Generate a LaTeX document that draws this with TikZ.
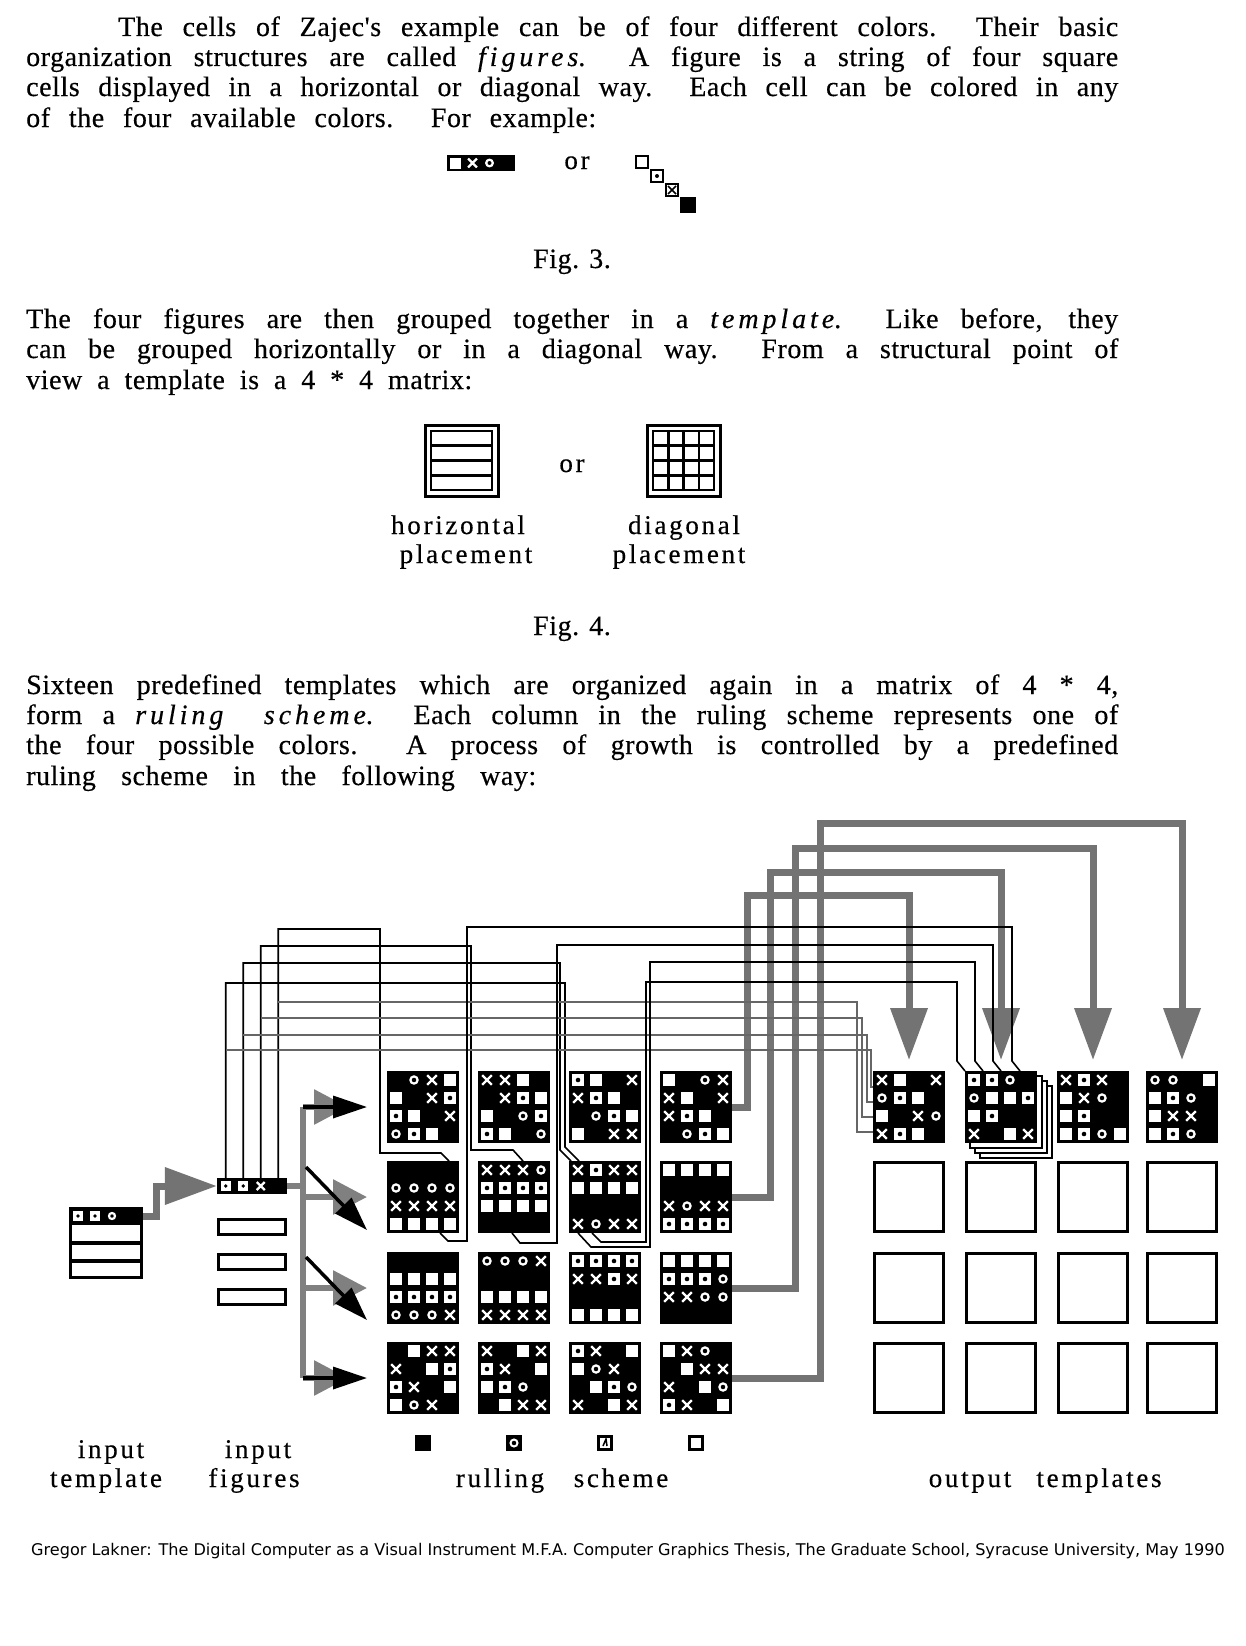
\documentclass[tikz,border=0pt]{standalone}
\usepackage{fontspec}
\setmainfont{Liberation Serif}
\newfontfamily\bodyfont[LetterSpace=2,FakeBold=0.4]{Liberation Serif}
\newfontfamily\lblfont[LetterSpace=10,FakeBold=0.4]{Liberation Serif}
\newfontfamily\capfont{DejaVu Sans}
\usetikzlibrary{arrows.meta}

\newcommand\emsp[1]{{\itshape\addfontfeature{LetterSpace=14}#1}}

\newcommand\cellsym[4]{%
  \if #4w\fill[white] ({#1-#3},{#2-#3}) rectangle ({#1+#3},{#2+#3});\fi
  \if #4x\draw[white,line width=2.4pt] ({#1-0.8*#3},{#2-0.8*#3}) -- ({#1+0.8*#3},{#2+0.8*#3}) ({#1-0.8*#3},{#2+0.8*#3}) -- ({#1+0.8*#3},{#2-0.8*#3});\fi
  \if #4o\draw[white,line width=2.2pt] ({#1},{#2}) circle ({0.6*#3});\fi
  \if #4s\fill[white] ({#1-#3},{#2-#3}) rectangle ({#1+#3},{#2+#3}); \fill[black] ({#1},{#2}) circle ({0.38*#3});\fi
}

\newcommand\tmpl[4]{%
  \node[tmplbox] (#1) at ({#2+36},{#3+36}) {};
  \foreach \sy [count=\ii from 0] in {#4}{%
    \pgfmathtruncatemacro\cc{mod(\ii,4)}%
    \pgfmathtruncatemacro\rr{floor(\ii/4)}%
    \cellsym{#2+9+18*\cc}{#3+9+18*\rr}{6}{\sy}}%
}

\tikzset{
  body/.style={anchor=base west, inner sep=0pt, font=\bodyfont\fontsize{28}{30}\selectfont},
  lbl/.style={anchor=base, inner sep=0pt, font=\lblfont\fontsize{27}{30}\selectfont},
  tmplbox/.style={rectangle, fill=black, minimum width=72pt, minimum height=72pt, inner sep=0pt},
  blankbox/.style={rectangle, draw=black, line width=3pt, fill=white, minimum width=69pt, minimum height=69pt, inner sep=0pt},
  wire/.style={draw=black, line width=1.6pt, line join=miter},
  wire2/.style={draw=black!60, line width=2.2pt, line join=miter},
  gshaft/.style={draw=black!55, line width=7pt, line join=miter},
  garrow/.style={gshaft, -{Triangle[width=36pt,length=52pt]}},
  gsmall/.style={draw=black!50, line width=6pt, -{Triangle[width=34pt,length=34pt]}},
  barrow/.style={draw=black, line width=3.5pt, -{Triangle[width=22pt,length=34pt]}},
}

\begin{document}
\begin{tikzpicture}[x=1pt,y=-1pt]
\useasboundingbox (0,0) rectangle (1245,1646);
\fill[white] (0,0) rectangle (1245,1646);

% ---------------- paragraph 1
\node[body] (p1a) at (118,36) {\makebox[1000pt][s]{The cells of Zajec's example can be of four different colors.\ \ Their basic}};
\node[body] (p1b) at (26,66) {\makebox[1092pt][s]{organization structures are called \emsp{figures}.\ \ A figure is a string of four square}};
\node[body] (p1c) at (26,96) {\makebox[1092pt][s]{cells displayed in a horizontal or diagonal way.\ \ Each cell can be colored in any}};
\node[body] (p1d) at (26,127) {\makebox[570pt][s]{of the four available colors.\ \ For example:}};

% Fig 3 figures
\node[rectangle, fill=black, minimum width=68pt, minimum height=16pt, inner sep=0pt] (hfig) at (481,163) {};
\cellsym{455.5}{163}{5.5}{w}
\cellsym{472.5}{163}{5.5}{x}
\cellsym{489.5}{163}{5.5}{o}
\node[lbl] (or1) at (577,169) {or};
\node[rectangle, draw=black, line width=2.5pt, fill=white, minimum size=12pt, inner sep=0pt] (d1) at (642,162) {};
\node[rectangle, draw=black, line width=2.5pt, fill=white, minimum size=12pt, inner sep=0pt] (d2) at (657,176) {};
\fill[black] (657,176) circle (2);
\node[rectangle, draw=black, line width=2.5pt, fill=white, minimum size=12pt, inner sep=0pt] (d3) at (672,190) {};
\draw[black, line width=1.5pt] (668,186) -- (676,194) (668,194) -- (676,186);
\node[rectangle, fill=black, minimum size=16pt, inner sep=0pt] (d4) at (688,205) {};
\node[body, anchor=base] (fig3) at (572,268) {Fig. 3.};

% ---------------- paragraph 2
\node[body] (p2a) at (26,328) {\makebox[1092pt][s]{The four figures are then grouped together in a \emsp{template}.\ \ Like before, they}};
\node[body] (p2b) at (26,358) {\makebox[1092pt][s]{can be grouped horizontally or in a diagonal way.\ \ From a structural point of}};
\node[body] (p2c) at (26,389) {\makebox[446pt][s]{view a template is a 4 * 4 matrix:}};

% Fig 4 boxes
\draw[line width=3pt] (425,425) rectangle (498,496);
\draw[line width=2pt] (431,431) rectangle (492,490);
\foreach \yy in {445.5,460.5,475.5} \draw[line width=2.5pt] (431,\yy) -- (492,\yy);
\node[inner sep=0pt] (hbox) at (461.5,460.5) {};
\draw[line width=3pt] (647,425) rectangle (720,496);
\draw[line width=2pt] (653,431) rectangle (714,490);
\foreach \yy in {445.5,460.5,475.5} \draw[line width=2.5pt] (653,\yy) -- (714,\yy);
\foreach \xx in {668.25,683.5,698.75} \draw[line width=2.5pt] (\xx,431) -- (\xx,490);
\node[inner sep=0pt] (dbox) at (683.5,460.5) {};
\node[lbl] (or2) at (572,472) {or};
\node[lbl] (hl1) at (458,534) {horizontal};
\node[lbl] (hl2) at (466,563) {placement};
\node[lbl] (dl1) at (684,534) {diagonal};
\node[lbl] (dl2) at (679,563) {placement};
\node[body, anchor=base] (fig4) at (572,635) {Fig. 4.};

% ---------------- paragraph 3
\node[body] (p3a) at (26,694) {\makebox[1092pt][s]{Sixteen predefined templates which are organized again in a matrix of 4 * 4,}};
\node[body] (p3b) at (26,724) {\makebox[1092pt][s]{form a \emsp{ruling}\ \ \emsp{scheme}.\ \ Each column in the ruling scheme represents one of}};
\node[body] (p3c) at (26,754) {\makebox[1092pt][s]{the four possible colors.\ \ A process of growth is controlled by a predefined}};
\node[body] (p3d) at (26,785) {\makebox[510pt][s]{ruling scheme in the following way:}};

% ---------------- gray arrows from column 4 to outputs (drawn first, underneath)
\coordinate (g1) at (732,1107);
\coordinate (g2) at (732,1197);
\coordinate (g3) at (732,1288);
\coordinate (g4) at (732,1378);
\coordinate (t1) at (909,1060);
\coordinate (t2) at (1001,1060);
\coordinate (t3) at (1093,1060);
\coordinate (t4) at (1182,1060);
\draw[garrow] (g1) -| (747,895) -| (t1);
\draw[garrow] (g2) -| (770,872) -| (t2);
\draw[garrow] (g3) -| (795,848) -| (t3);
\draw[garrow] (g4) -| (820,823) -| (t4);

% ---------------- ruling scheme templates
\tmpl{T11}{387}{1071}{b,o,x,w,w,b,x,s,s,w,b,x,o,s,w,b}
\tmpl{T12}{478}{1071}{x,x,w,b,b,x,s,w,w,b,o,s,s,w,b,o}
\tmpl{T13}{569}{1071}{s,w,b,x,x,s,w,b,b,o,s,w,w,b,x,x}
\tmpl{T14}{660}{1071}{w,b,o,x,x,w,b,x,x,s,w,b,b,o,s,w}
\tmpl{T21}{387}{1161}{b,b,b,b,o,o,o,o,x,x,x,x,w,w,w,w}
\tmpl{T22}{478}{1161}{x,x,x,o,s,s,s,s,w,w,w,w,b,b,b,b}
\tmpl{T23}{569}{1161}{x,s,x,x,w,w,w,w,b,b,b,b,x,o,x,x}
\tmpl{T24}{660}{1161}{w,w,w,w,b,b,b,b,x,o,x,x,s,s,s,s}
\tmpl{T31}{387}{1252}{b,b,b,b,w,w,w,w,s,s,s,s,o,o,o,x}
\tmpl{T32}{478}{1252}{o,o,o,x,b,b,b,b,w,w,w,w,x,x,x,x}
\tmpl{T33}{569}{1252}{s,s,s,s,x,x,s,x,b,b,b,b,w,w,w,w}
\tmpl{T34}{660}{1252}{w,w,w,w,s,s,s,o,x,x,o,o,b,b,b,b}
\tmpl{T41}{387}{1342}{b,w,x,x,x,b,w,s,s,x,b,w,w,o,x,b}
\tmpl{T42}{478}{1342}{x,b,w,x,s,x,b,w,w,s,o,b,b,w,x,x}
\tmpl{T43}{569}{1342}{s,x,b,w,w,o,x,b,b,w,s,o,x,b,w,x}
\tmpl{T44}{660}{1342}{w,x,o,b,b,w,x,x,x,b,w,o,s,x,b,w}

% ---------------- output templates
\foreach \k in {3,2,1} \draw[black, line width=1.5pt, fill=white] ({965+5*\k},{1071+5*\k}) rectangle ({1037+5*\k},{1143+5*\k});
\tmpl{O11}{873}{1071}{x,w,b,x,o,s,w,b,w,b,x,o,x,s,w,b}
\tmpl{O12}{965}{1071}{s,s,o,b,o,w,w,s,w,s,b,b,x,b,w,x}
\tmpl{O13}{1057}{1071}{x,s,x,b,w,x,o,b,w,s,b,b,w,s,o,w}
\tmpl{O14}{1146}{1071}{o,o,b,w,w,s,o,b,w,x,x,b,w,s,o,b}
\foreach \r/\yy in {2/1197,3/1288,4/1378}
  \foreach \c/\xx in {1/909,2/1001,3/1093,4/1182}
    \node[blankbox] (O\r\c) at (\xx,\yy) {};

% ---------------- input template
\node[rectangle, draw=black, line width=3pt, fill=white, minimum width=71pt, minimum height=69pt, inner sep=0pt] (IT) at (106,1243) {};
\fill[black] (69,1207) rectangle (143,1225);
\draw[line width=3.5pt] (70,1243) -- (142,1243) (70,1261) -- (142,1261);
\cellsym{78}{1216}{5}{s}
\cellsym{95}{1216}{5}{s}
\cellsym{112}{1216}{5}{o}

% ---------------- input figures
\node[rectangle, fill=black, minimum width=70pt, minimum height=16pt, inner sep=0pt] (IF) at (252,1186) {};
\cellsym{225.75}{1186}{5}{s}
\cellsym{243.25}{1186}{5}{s}
\cellsym{260.75}{1186}{5}{x}
\node[rectangle, draw=black, line width=2.8pt, fill=white, minimum width=67pt, minimum height=15pt, inner sep=0pt] (IF2) at (252,1227) {};
\node[rectangle, draw=black, line width=2.8pt, fill=white, minimum width=67pt, minimum height=15pt, inner sep=0pt] (IF3) at (252,1262) {};
\node[rectangle, draw=black, line width=2.8pt, fill=white, minimum width=67pt, minimum height=15pt, inner sep=0pt] (IF4) at (252,1297) {};

% input template -> input figure
\coordinate (a0) at (143,1216);
\draw[gshaft, -{Triangle[width=36pt,length=52pt]}] (a0) -| (156,1186) -- (IF.west);

% bus and arrows into ruling scheme
\coordinate (b0) at (303,1107);
\coordinate (b4) at (303,1378);
\draw[draw=black!50, line width=6pt] (IF.east) -- (303,1186);
\draw[draw=black!50, line width=6pt] (b0) -- (b4);
\draw[gsmall] (303,1107) -- (348,1107);
\draw[barrow] (303,1107) -- (367,1107);
\draw[gsmall] (303,1197) -- (367,1197);
\draw[barrow] (306,1167) -- (367,1230);
\draw[gsmall] (303,1288) -- (367,1288);
\draw[barrow] (306,1257) -- (367,1320);
\draw[gsmall] (303,1378) -- (348,1378);
\draw[barrow] (303,1378) -- (367,1378);

% ---------------- figure lines (cells of input figure -> ruling columns)
\coordinate (f1) at (278.25,1178);
\coordinate (f2) at (260.75,1178);
\coordinate (f3) at (243.25,1178);
\coordinate (f4) at (225.75,1178);
\draw[wire] (f1) |- (380,929) |- (441,1153) -- (449,1161);
\draw[wire] (f2) |- (471,946) |- (513,1150) -- (523,1161);
\draw[wire] (f3) |- (560,963) -- (560,1150) -- (571,1161);
\draw[wire] (f4) |- (565,983) -- (565,1147) -- (579,1161);

% branches to first output template
\draw[wire2] (278.25,1002) -| (857,1132) -- (873,1132);
\draw[wire2] (260.75,1018) -| (862,1117) -- (873,1117);
\draw[wire2] (243.25,1035) -| (867,1102) -- (873,1102);
\draw[wire2] (225.75,1050) -| (871,1087) -- (873,1087);

% selected templates -> second output template
\draw[wire] (440,1233) -- (448,1241) -| (467,927) -| (1012,1061) -- (1020,1071);
\draw[wire] (512,1233) -- (520,1243) -| (557,945) -| (993,1061) -- (1001,1071);
\draw[wire] (578,1233) -- (591,1247) -| (650,962) -| (975,1061) -- (983,1071);
\draw[wire] (592,1233) -- (601,1242) -| (646,982) -| (957,1061) -- (965,1071);

% ---------------- legend squares
\node[rectangle, fill=black, minimum size=16pt, inner sep=0pt] (k1) at (423,1443) {};
\node[rectangle, fill=black, minimum size=16pt, inner sep=0pt] (k2) at (514,1443) {};
\draw[white, line width=2pt] (514,1443) circle (3.5);
\node[rectangle, draw=black, line width=3pt, fill=white, minimum size=13pt, inner sep=0pt] (k3) at (605,1443) {};
\draw[black, line width=1.5pt] (603,1446) -- (606,1439) -- (607,1446);
\node[rectangle, draw=black, line width=3pt, fill=white, minimum size=13pt, inner sep=0pt] (k4) at (696,1443) {};

% ---------------- labels
\node[lbl] (it1) at (111,1458) {input};
\node[lbl] (it2) at (106,1487) {template};
\node[lbl] (if1) at (258,1458) {input};
\node[lbl] (if2) at (254,1487) {figures};
\node[lbl] (rs1) at (500,1487) {rulling};
\node[lbl] (rs2) at (621,1487) {scheme};
\node[lbl] (ot1) at (970,1487) {output};
\node[lbl] (ot2) at (1099,1487) {templates};

% ---------------- caption
\node[anchor=base west, inner sep=0pt, font=\capfont\fontsize{16.1}{18}\selectfont] (cap) at (31,1555) {Gregor Lakner: The Digital Computer as a Visual Instrument M.F.A. Computer Graphics Thesis, The Graduate School, Syracuse University, May 1990};
\end{tikzpicture}
\end{document}
